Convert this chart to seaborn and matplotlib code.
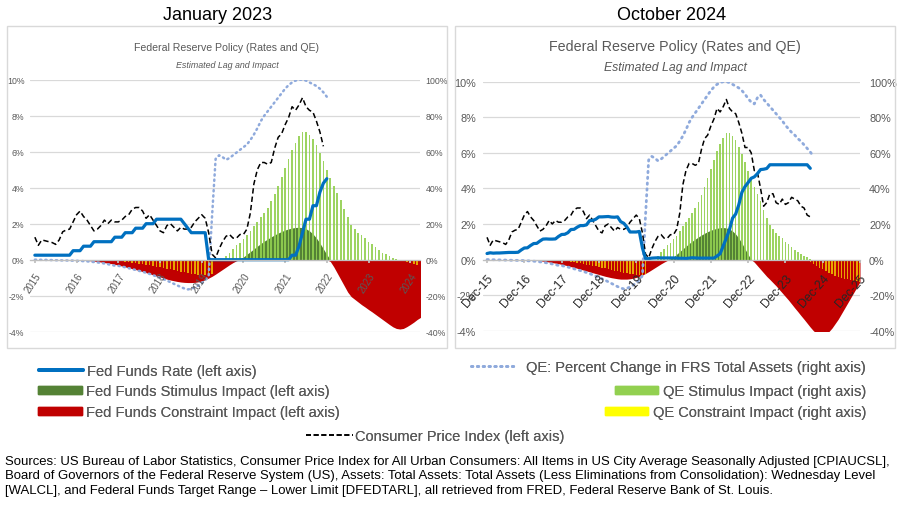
import numpy as np
import matplotlib
matplotlib.use("Agg")
import matplotlib.pyplot as plt
import seaborn as sns
from matplotlib.lines import Line2D
from matplotlib.patches import Patch, Rectangle

# month index 0 = Dec-15 on the chart axis, one value per month

CPI = [
    1.25, 0.8, 1.1, 1.05, 1.0, 0.95, 0.85, 1.1, 1.55, 1.65, 1.7, 2.1,
    2.5, 2.7, 2.4, 2.2, 1.9, 1.6, 1.7, 1.9, 2.2, 2.0, 2.2, 2.1,
    2.1, 2.2, 2.4, 2.5, 2.8, 2.9, 2.9, 2.7, 2.3, 2.5, 2.2, 1.9,
    1.6, 1.5, 1.9, 2.0, 1.8, 1.6, 1.8, 1.7, 1.7, 1.8, 2.1, 2.3,
    2.5, 2.3, 1.5, 0.3, 0.1, 0.6, 1.0, 1.3, 1.4, 1.2, 1.2, 1.4,
    1.4, 1.7, 2.6, 4.2, 5.0, 5.4, 5.4, 5.3, 5.4, 6.2, 6.8, 7.0,
    7.5, 7.9, 8.5, 8.3, 8.6, 9.0, 8.5, 8.3, 8.2, 7.7, 7.1, 6.3,
    6.3, 6.0, 5.0, 4.9, 4.0, 3.0, 3.2, 3.7, 3.7, 3.2, 3.1, 3.4,
    3.1, 3.2, 3.5, 3.4, 3.3, 3.0, 2.9, 2.5, 2.4,
]

# target range lower limit (January 2023 chart)
FFR_JAN23 = [
    0.25, 0.25, 0.25, 0.25, 0.25, 0.25, 0.25, 0.25, 0.25, 0.25, 0.25, 0.5,
    0.5, 0.5, 0.75, 0.75, 0.75, 1.0, 1.0, 1.0, 1.0, 1.0, 1.0, 1.25,
    1.25, 1.25, 1.5, 1.5, 1.5, 1.75, 1.75, 1.75, 2.0, 2.0, 2.0, 2.25,
    2.25, 2.25, 2.25, 2.25, 2.25, 2.25, 2.25, 2.0, 1.75, 1.5, 1.5, 1.5,
    1.5, 1.5, 0, 0, 0, 0, 0, 0, 0, 0, 0, 0,
    0, 0, 0, 0, 0, 0, 0, 0, 0, 0, 0, 0,
    0, 0, 0.25, 0.25, 0.75, 1.5, 2.25, 2.25, 3.0, 3.0, 3.75, 4.25,
    4.5,
]

# effective rate (October 2024 chart)
FFR_OCT24 = [
    0.34, 0.38, 0.36, 0.37, 0.37, 0.38, 0.39, 0.40, 0.40, 0.40, 0.41, 0.54,
    0.65, 0.66, 0.79, 0.90, 0.91, 1.04, 1.15, 1.16, 1.15, 1.15, 1.16, 1.30,
    1.41, 1.42, 1.51, 1.69, 1.70, 1.82, 1.91, 1.91, 1.95, 2.19, 2.20, 2.27,
    2.40, 2.40, 2.41, 2.42, 2.39, 2.38, 2.40, 2.13, 2.04, 1.83, 1.55, 1.55,
    1.55, 1.58, 0.65, 0.05, 0.05, 0.08, 0.09, 0.10, 0.09, 0.09, 0.09, 0.09,
    0.09, 0.08, 0.07, 0.07, 0.06, 0.08, 0.10, 0.09, 0.08, 0.08, 0.08, 0.08,
    0.08, 0.08, 0.20, 0.33, 0.77, 1.21, 1.68, 2.33, 2.56, 3.08, 3.78, 4.10,
    4.33, 4.57, 4.65, 4.83, 5.06, 5.08, 5.12, 5.33, 5.33, 5.33, 5.33, 5.33,
    5.33, 5.33, 5.33, 5.33, 5.33, 5.33, 5.33, 5.33, 5.13,
]

# QE: percent change in FRS total assets (right axis)
QE_PCT = [
    0.0, 0.0, -0.1, -0.1, -0.2, -0.2, -0.3, -0.3, -0.4, -0.4, -0.5, -0.5,
    -0.6, -0.7, -0.8, -0.9, -1.1, -1.3, -1.5, -1.8, -2.1, -2.5, -2.9, -3.3,
    -3.4, -3.8, -4.2, -4.7, -5.2, -5.7, -6.2, -6.7, -7.3, -7.9, -8.6, -9.3,
    -10.0, -10.8, -11.6, -12.5, -13.4, -14.3, -15.2, -16.0, -16.5, -16.2, -15.4, -14.4,
    -13.0, -11.5, -9.0, 25.0, 56.0, 58.0, 57.0, 55.5, 56.5, 58.0, 59.5, 61.0,
    62.5, 64.0, 66.5, 69.5, 73.0, 77.0, 80.0, 82.5, 85.0, 87.5, 90.0, 92.5,
    95.0, 97.0, 98.5, 99.5, 100.0, 100.0, 99.5, 98.5, 97.5, 96.5, 95.0, 93.0,
    90.5, 88.5, 87.5, 91.0, 92.5, 90.0, 88.0, 86.0, 84.0, 82.0, 80.0, 78.0,
    75.5, 73.5, 71.5, 70.0, 68.0, 66.5, 64.5, 62.5, 60.5, 58.0,
]

QE_STIM_START = 55
QE_STIM = [
    2, 4, 6, 8, 9.5, 11.5, 13.5, 16, 19, 21, 23.5, 26, 29, 32.5, 36.5,
    41, 46, 51, 56, 61, 65, 68.5, 71, 71, 69.5, 67, 63.5, 59.5, 55, 50,
    45.5, 41, 37, 33, 28, 23.5, 19.5, 17, 15, 13.5, 12, 10, 8.5, 7, 5.5,
    4, 3, 2, 1.2, 0.5,
]

QE_CON_START = 24
QE_CON = [
    -0.5, -0.8, -1.0, -1.3, -1.6, -1.9, -2.2, -2.5, -2.8, -3.1, -3.4, -3.8,
    -4.2, -4.6, -5.0, -5.4, -5.8, -6.2, -6.6, -7.0, -7.4, -7.8, -8.1, -8.4,
    -8.6, -8.7, -8.5, -8.0,
]
QE_CON2_JAN23_START = 106
QE_CON2_JAN23 = [-0.5, -1.2, -1.9, -2.5, -3.0, -3.4]
QE_CON2_OCT24_START = 103
QE_CON2_OCT24 = [
    -0.5, -1.5, -2.5, -3.5, -4.5, -5.5, -6.5, -7.5, -8.3, -9.0, -9.7, -10.3,
    -10.8, -11.2, -11.6, -11.9, -12.2, -12.4,
]

FF_STIM_START = 58
FF_STIM = [
    0.0, 0.05, 0.15, 0.3, 0.45, 0.6, 0.75, 0.9, 1.03, 1.15, 1.27, 1.38,
    1.48, 1.57, 1.65, 1.71, 1.76, 1.79, 1.8, 1.78, 1.72, 1.6, 1.43, 1.2,
    0.92, 0.6, 0.28, 0.0,
]

FF_CON1_START = 12
FF_CON1_JAN23 = [
    0.0, -0.01, -0.02, -0.04, -0.06, -0.08, -0.1, -0.13, -0.16, -0.19, -0.22, -0.26,
    -0.3, -0.35, -0.4, -0.45, -0.5, -0.55, -0.6, -0.66, -0.72, -0.78, -0.84, -0.9,
    -0.96, -1.02, -1.08, -1.13, -1.17, -1.21, -1.24, -1.26, -1.27, -1.27, -1.26, -1.23,
    -1.18, -1.11, -1.02, -0.92, -0.8, -0.67, -0.54, -0.41, -0.28, -0.16, -0.06, 0.0,
]
FF_CON1_OCT24 = [
    0.0, -0.01, -0.02, -0.03, -0.05, -0.07, -0.09, -0.11, -0.14, -0.17, -0.2, -0.23,
    -0.27, -0.31, -0.35, -0.4, -0.44, -0.49, -0.54, -0.59, -0.64, -0.69, -0.74, -0.79,
    -0.84, -0.89, -0.94, -0.98, -1.02, -1.05, -1.08, -1.1, -1.1, -1.1, -1.08, -1.05,
    -1.0, -0.94, -0.87, -0.78, -0.68, -0.57, -0.46, -0.35, -0.24, -0.14, -0.05, 0.0,
]

FF_CON2_START = 84
FF_CON2_JAN23 = [
    0.0, -0.1, -0.4, -0.75, -1.1, -1.45, -1.8, -2.05, -2.2, -2.35, -2.5, -2.63,
    -2.77, -2.9, -3.04, -3.18, -3.32, -3.46, -3.6, -3.73, -3.82, -3.85, -3.82, -3.72,
    -3.6, -3.47, -3.32, -3.2,
]
FF_CON2_OCT24 = [
    0.0, 0.0, -0.15, -0.35, -0.55, -0.75, -0.95, -1.12, -1.3, -1.48, -1.68, -1.88,
    -2.08, -2.28, -2.5, -2.72, -2.93, -3.15, -3.36, -3.58, -3.8, -4.0, -4.15, -4.25,
    -4.28, -4.22, -4.05, -3.85, -3.6, -3.35, -3.05, -2.75, -2.45, -2.15, -1.85, -1.55,
    -1.25,
]

YEARS_JAN23 = ["2015", "2016", "2017", "2018", "2019", "2020", "2021", "2022", "2023", "2024"]
YEARS_OCT24 = ["Dec-15", "Dec-16", "Dec-17", "Dec-18", "Dec-19", "Dec-20",
               "Dec-21", "Dec-22", "Dec-23", "Dec-24", "Dec-25"]

BLUE = "#0070C0"
DKGREEN = "#548235"
LTGREEN = "#92D050"
RED = "#C00000"
YELLOW = "#FFFF00"
QEBLUE = "#8FAADC"
GRID = "#D9D9D9"
TXT = "#595959"

sns.set_theme(style="white")
plt.rcParams["font.family"] = ["Liberation Sans", "DejaVu Sans"]
plt.rcParams["axes.unicode_minus"] = False
NARROW = ["Liberation Sans Narrow", "Liberation Sans", "DejaVu Sans"]

fig = plt.figure(figsize=(9, 5.1), dpi=100)


def seg(start, vals):
    return np.arange(start, start + len(vals)), np.array(vals, dtype=float)


def draw_panel(rect, xlim, labels, ffr, cpi, qe, con1, con2, qe_con2, st):
    ax = fig.add_axes(rect)
    axr = ax.twinx()
    axl = ax.twinx()
    for a in (ax, axr, axl):
        a.set_xlim(*xlim)
        for s in a.spines.values():
            s.set_visible(False)
        a.patch.set_visible(False)
    ax.set_ylim(-4, 10)
    axl.set_ylim(-4, 10)
    axr.set_ylim(-40, 100)

    # areas (left axis)
    x, y = seg(FF_CON1_START, con1)
    ax.fill_between(x, y, 0, color=RED, lw=0)
    x, y = seg(FF_CON2_START, con2)
    ax.fill_between(x, y, 0, color=RED, lw=0)
    x, y = seg(FF_STIM_START, FF_STIM)
    ax.fill_between(x, y, 0, color=DKGREEN, lw=0)

    # QE bars and line (right axis)
    x, y = seg(QE_STIM_START, QE_STIM)
    axr.bar(x, y, width=0.5, color=LTGREEN, lw=0, alpha=0.9)
    x, y = seg(QE_CON_START, QE_CON)
    axr.bar(x, y, width=0.45, color=YELLOW, lw=0, alpha=0.65)
    x, y = seg(qe_con2[0], qe_con2[1])
    axr.bar(x, y, width=0.45, color=YELLOW, lw=0, alpha=0.65)
    x, y = seg(0, qe)
    sns.lineplot(x=x, y=y, ax=axr, color=QEBLUE, lw=st["dot_lw"],
                 linestyle=(0, (0.5, 1.6)), dash_capstyle="round")

    # lines (left axis)
    x, y = seg(0, cpi)
    sns.lineplot(x=x, y=y, ax=axl, color="black", lw=1.1, linestyle=(0, (3.5, 2)))
    x, y = seg(0, ffr)
    sns.lineplot(x=x, y=y, ax=axl, color=BLUE, lw=st["ffr_lw"])

    # y axes
    ax.set_yticks(range(-4, 11, 2))
    ax.set_yticklabels([f"{v}%" for v in range(-4, 11, 2)])
    ax.grid(axis="y", color=GRID, lw=0.9)
    ax.grid(axis="x", visible=False)
    ax.tick_params(axis="y", length=0, pad=st["ypad_l"], labelsize=st["ysize"], labelcolor=TXT)
    ax.tick_params(axis="x", bottom=False, labelbottom=False)
    axr.set_yticks(range(-40, 101, 20))
    axr.set_yticklabels([f"{v}%" for v in range(-40, 101, 20)])
    axr.tick_params(axis="y", length=0, pad=st["ypad_r"], labelsize=st["ysize"], labelcolor=TXT)
    axr.grid(False)
    for lbl in ax.get_yticklabels() + axr.get_yticklabels():
        lbl.set_fontfamily(NARROW)

    # x axis crossing at zero
    axl.grid(False)
    axl.yaxis.set_visible(False)
    axl.xaxis.set_visible(True)
    axl.spines["bottom"].set_visible(True)
    axl.spines["bottom"].set_position(("data", 0))
    axl.spines["bottom"].set_color("#BFBFBF")
    axl.spines["bottom"].set_linewidth(0.9)
    axl.set_xticks(range(0, 12 * len(labels), 12))
    axl.set_xticklabels(labels)
    axl.tick_params(axis="x", bottom=True, length=2.5, color="#BFBFBF", pad=st["xpad"],
                    labelsize=st["xsize"], labelcolor=st["xcolor"])
    for lbl in axl.get_xticklabels():
        lbl.set_fontfamily(NARROW)
        lbl.set_rotation(st["rot"])
        lbl.set_ha("right")
        lbl.set_va("top")
        lbl.set_rotation_mode("anchor")
    axl.set_xlabel("")
    axr.set_ylabel("")
    axl.set_ylabel("")
    return ax


left_style = dict(ysize=6.3, xsize=7, xcolor=TXT, rot=57, xpad=5, ypad_l=4, ypad_r=4,
                  ffr_lw=2.3, dot_lw=1.8)
right_style = dict(ysize=7.8, xsize=8.8, xcolor="#262626", rot=48, xpad=6, ypad_l=5, ypad_r=6.5,
                   ffr_lw=2.3, dot_lw=2.0)

draw_panel([30 / 900, 1 - 332.7 / 510, 390 / 900, 252 / 510], (-1.4, 110.8), YEARS_JAN23,
           FFR_JAN23, CPI[:84], QE_PCT[:85], FF_CON1_JAN23, FF_CON2_JAN23,
           (QE_CON2_JAN23_START, QE_CON2_JAN23), left_style)
draw_panel([483 / 900, 1 - 331.7 / 510, 377 / 900, 249 / 510], (-1.3, 120), YEARS_OCT24,
           FFR_OCT24, CPI, QE_PCT, FF_CON1_OCT24, FF_CON2_OCT24,
           (QE_CON2_OCT24_START, QE_CON2_OCT24), right_style)

# chart frames
for x0 in (7, 455):
    fig.add_artist(Rectangle((x0 / 900, 1 - 349 / 510), 440 / 900, 322 / 510,
                             transform=fig.transFigure, fill=False, edgecolor=GRID, lw=1))

fig.text(218 / 900, 1 - 15 / 510, "January 2023", ha="center", va="center", fontsize=13, color="black")
fig.text(672 / 900, 1 - 15 / 510, "October 2024", ha="center", va="center", fontsize=13, color="black")
fig.text(227 / 900, 1 - 48 / 510, "Federal Reserve Policy (Rates and QE)", ha="center", va="center",
         fontsize=7.6, color=TXT, fontfamily=NARROW)
fig.text(227 / 900, 1 - 66 / 510, "Estimated Lag and Impact", ha="center", va="center",
         fontsize=6.4, color=TXT, style="italic", fontfamily=NARROW)
fig.text(675 / 900, 1 - 47 / 510, "Federal Reserve Policy (Rates and QE)", ha="center", va="center",
         fontsize=10.3, color=TXT, fontfamily=NARROW)
fig.text(675 / 900, 1 - 68 / 510, "Estimated Lag and Impact", ha="center", va="center",
         fontsize=8.8, color=TXT, style="italic", fontfamily=NARROW)


def key(handle, text, x, y, loc, hl=3.0, tp=0.3):
    leg = fig.legend([handle], [text], loc=loc, bbox_to_anchor=(x / 900, 1 - y / 510),
                     frameon=False, fontsize=10.5, handlelength=hl, handletextpad=tp,
                     handleheight=0.5, borderpad=0, borderaxespad=0, labelcolor=TXT)
    fig.add_artist(leg)


key(Line2D([], [], color=BLUE, lw=2.8), "Fed Funds Rate (left axis)", 39, 372, "center left")
key(Patch(color=DKGREEN), "Fed Funds Stimulus Impact (left axis)", 38, 392, "center left")
key(Patch(color=RED), "Fed Funds Constraint Impact (left axis)", 38, 413, "center left")
key(Line2D([], [], color="black", lw=1.2, linestyle=(0, (3, 1.6))), "Consumer Price Index (left axis)",
    306, 437, "center left", hl=3.2, tp=0.15)
key(Line2D([], [], color=QEBLUE, lw=2, linestyle=(0, (0.5, 1.6)), dash_capstyle="round"),
    "QE: Percent Change in FRS Total Assets (right axis)", 866, 368, "center right", hl=3.0, tp=0.8)
key(Patch(color=LTGREEN), "QE Stimulus Impact (right axis)", 866, 392, "center right")
key(Patch(color=YELLOW), "QE Constraint Impact (right axis)", 866, 413, "center right")

fig.text(5 / 900, 1 - 456 / 510,
         "Sources: US Bureau of Labor Statistics, Consumer Price Index for All Urban Consumers: All Items "
         "in US City Average Seasonally Adjusted [CPIAUCSL],\n"
         "Board of Governors of the Federal Reserve System (US), Assets: Total Assets: Total Assets "
         "(Less Eliminations from Consolidation): Wednesday Level\n"
         "[WALCL], and Federal Funds Target Range \u2013 Lower Limit [DFEDTARL], all retrieved from FRED, "
         "Federal Reserve Bank of St. Louis.",
         ha="left", va="top", fontsize=9.45, color="black", linespacing=1.27)

fig.savefig("out.png", dpi=100)
